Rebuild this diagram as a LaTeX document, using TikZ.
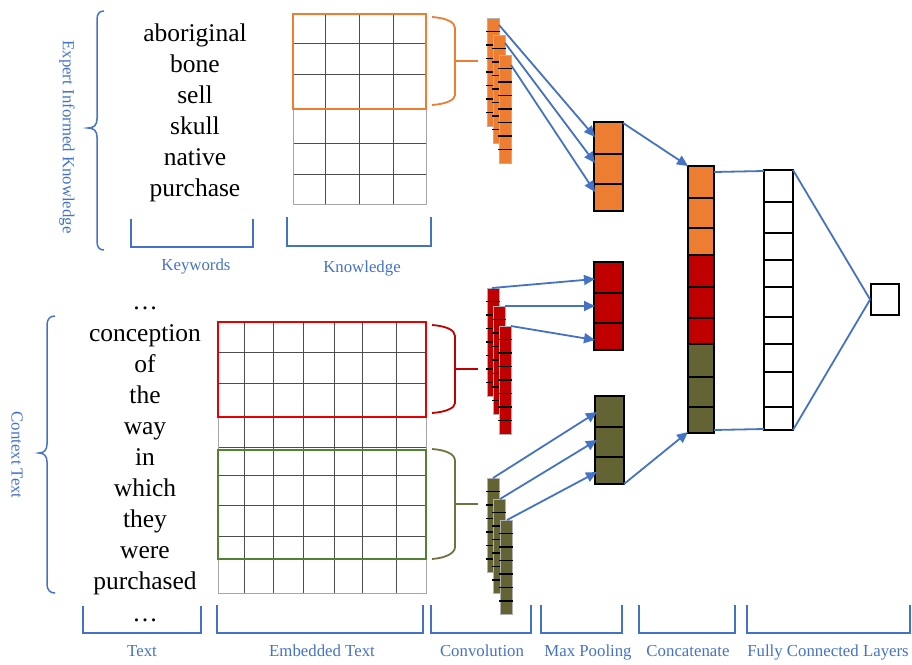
\documentclass[tikz,border=0pt]{standalone}
\usepackage{fontspec}
\setmainfont{Liberation Serif}
\usetikzlibrary{arrows.meta,calc}
\definecolor{myblue}{HTML}{4472C4}
\definecolor{myorange}{HTML}{ED7D31}
\definecolor{myred}{HTML}{C00000}
\definecolor{boxred}{HTML}{E80000}
\definecolor{myolive}{HTML}{636333}
\definecolor{braceolive}{HTML}{727240}
\definecolor{boxgreen}{HTML}{548235}
\newcommand\convcol[5]{% x, ytop, ncells, fill, name
  \path[draw=gray!60,line width=0.6pt,fill=#4] (#1,#2) rectangle ++(12,13.5*#3) coordinate (#5-br);
  \coordinate (#5-tl) at (#1,#2);
  \coordinate (#5-tr) at ($(#1,#2)+(12,0)$);
  \foreach \k in {1,...,\numexpr#3-1\relax}{\draw[black,line width=1.4pt] ($(#1,#2)+(-1,13.5*\k)$) -- ++(14,0);}
}
\tikzset{
  lbl/.style={text=myblue,font=\fontsize{16.8}{20}\selectfont,anchor=base,inner sep=0pt},
  word/.style={text=black,font=\fontsize{25.5}{30}\selectfont,anchor=base,inner sep=0pt},
  bracketline/.style={draw=myblue,line width=1.8pt},
  bluebrace/.style={draw=myblue,line width=1.5pt},
  colbrace/.style={line width=1.8pt},
  gridline/.style={draw=black!70,line width=0.6pt},
  conn/.style={draw=myblue,line width=1.8pt},
  arr/.style={conn,-{Triangle[length=11pt,width=10pt]}},
  poolbox/.style={draw=black,line width=1.8pt},
}
\begin{document}
\begin{tikzpicture}[x=1pt,y=-1pt]
\useasboundingbox (0,0) rectangle (912,664);

% ---------- big braces ----------
\draw[bluebrace] (104,11) .. controls (99,11) and (97,14) .. (97,20) -- (97,119) .. controls (97,125) and (94,128) .. (88,128) .. controls (94,128) and (97,131) .. (97,137) -- (97,241) .. controls (97,247) and (99,250) .. (104,250);
\node[lbl,anchor=center,rotate=-90] (eik) at (67,137) {Expert Informed Knowledge};

\draw[bluebrace] (55,316) .. controls (50,316) and (47,319) .. (47,325) -- (47,444) .. controls (47,450) and (44,453) .. (39,453) .. controls (44,453) and (47,456) .. (47,462) -- (47,584) .. controls (47,590) and (50,593) .. (55,593);
\node[lbl,anchor=center,rotate=-90] (ctx) at (17,455) {Context Text};

% ---------- keywords ----------
\node[word] (k1) at (195,41) {aboriginal};
\node[word] (k2) at (195,72) {bone};
\node[word] (k3) at (195,103) {sell};
\node[word] (k4) at (195,134) {skull};
\node[word] (k5) at (195,165) {native};
\node[word] (k6) at (195,196) {purchase};

% ---------- context words ----------
\node[word] (c0) at (145,309) {\ldots};
\node[word] (c1) at (145,341) {conception};
\node[word] (c2) at (145,372) {of};
\node[word] (c3) at (145,403) {the};
\node[word] (c4) at (145,434) {way};
\node[word] (c5) at (145,465) {in};
\node[word] (c6) at (145,496) {which};
\node[word] (c7) at (145,527) {they};
\node[word] (c8) at (145,558) {were};
\node[word] (c9) at (145,589) {purchased};
\node[word] (c10) at (145,621) {\ldots};

% ---------- knowledge grid ----------
\foreach \x in {325,359,393} \draw[gridline] (\x,13) -- (\x,204);
\foreach \y in {43,74,109,143,174} \draw[gridline] (293,\y) -- (426,\y);
\draw[draw=gray!70,line width=0.8pt] (293,13) rectangle (426,204);
\draw[draw=myorange,line width=2pt] (293,14) rectangle (426,109);

% ---------- embedded grid ----------
\foreach \x in {244,273,303,334,362,396} \draw[gridline] (\x,321) -- (\x,593);
\foreach \y in {352,383,417,447,475,505,536,559} \draw[gridline] (218,\y) -- (426,\y);
\draw[draw=gray!70,line width=0.8pt] (218,321) rectangle (426,593);
\draw[draw=boxred,line width=2pt] (218,322) rectangle (426,417);
\draw[draw=boxgreen,line width=2pt] (218,450) rectangle (426,559);

% ---------- coloured braces ----------
\draw[colbrace,draw=myorange] (432,17) .. controls (446,18) and (455,22) .. (455,28) -- (455,95) .. controls (455,100) and (446,104) .. (432,105);
\draw[colbrace,draw=myorange] (455,61) -- (478,61);
\draw[colbrace,draw=myred] (432,325) .. controls (446,326) and (455,330) .. (455,336) -- (455,403) .. controls (455,408) and (446,412) .. (432,413);
\draw[colbrace,draw=myred] (455,369) -- (478,369);
\draw[colbrace,draw=braceolive] (432,449) .. controls (446,450) and (455,454) .. (455,461) -- (455,547) .. controls (455,553) and (446,558) .. (432,559);
\draw[colbrace,draw=braceolive] (455,504) -- (478,504);

% ---------- convolution columns ----------
\convcol{487}{18}{8}{myorange}{o1}
\convcol{493}{35}{8}{myorange}{o2}
\convcol{499}{55}{8}{myorange}{o3}
\convcol{487}{288}{8}{myred}{r1}
\convcol{493}{306}{8}{myred}{r2}
\convcol{499}{326}{8}{myred}{r3}
\convcol{487}{478}{7}{myolive}{g1}
\convcol{493}{499}{7}{myolive}{g2}
\convcol{500}{520}{7}{myolive}{g3}

% ---------- max pooling ----------
\path[poolbox,fill=myorange] (594,122) rectangle (623,211);
\draw[poolbox] (594,154) -- (623,154) (594,184) -- (623,184);
\coordinate (mpotr) at (623,123);
\path[poolbox,fill=myred] (594,262) rectangle (623,350);
\draw[poolbox] (594,293) -- (623,293) (594,323) -- (623,323);
\path[poolbox,fill=myolive] (595,396) rectangle (624,484);
\draw[poolbox] (595,427) -- (624,427) (595,457) -- (624,457);
\coordinate (mpgbr) at (624,484);

% ---------- concatenate ----------
\path[fill=myorange] (688,166) rectangle (714,255);
\path[fill=myred] (688,255) rectangle (714,344);
\path[fill=myolive] (688,344) rectangle (714,433);
\foreach \y in {198,228,255,287,318,344,377,407} \draw[poolbox] (688,\y) -- (714,\y);
\draw[poolbox] (688,166) rectangle (714,433);
\coordinate (cattl) at (688,166);
\coordinate (catbl) at (688,432);
\coordinate (cattr) at (714,172);
\coordinate (catbr) at (714,430);

% ---------- fully connected ----------
\foreach \y in {202,233,260,287,317,344,372,407} \draw[poolbox] (764,\y) -- (793,\y);
\draw[poolbox] (764,170) rectangle (793,430);
\coordinate (fctl) at (764,171);
\coordinate (fcbl) at (764,429);
\coordinate (fctr) at (793,170);
\coordinate (fcbr) at (793,430);
\node[draw=black,line width=1.8pt,minimum width=28pt,minimum height=31pt,inner sep=0pt] (out) at (885,299.5) {};

% ---------- connectors ----------
\draw[arr] ($(o1-tr)+(0,7)$) -- (595,137);
\draw[arr] ($(o2-tr)+(0,8)$) -- (595,163);
\draw[arr] ($(o3-tr)+(0,10)$) -- (595,192);
\draw[arr] ($(r1-tl)+(5,0)$) -- (595,279);
\draw[arr] (r2-tr) -- (595,306);
\draw[arr] (r3-tr) -- (595,340);
\draw[arr] ($(g1-tl)+(6,0)$) -- (597,412);
\draw[arr] ($(g2-tl)+(7,0)$) -- (597,440);
\draw[arr] ($(g3-tl)+(7,0)$) -- (597,472);
\draw[arr] (mpotr) -- (cattl);
\draw[arr] (mpgbr) -- (catbl);
\draw[conn] (cattr) -- (fctl);
\draw[conn] (catbr) -- (fcbl);
\draw[conn] (fctr) -- (out.west);
\draw[conn] (fcbr) -- (out.west);

% ---------- brackets and labels ----------
\draw[bracketline] (131,219) -- (131,247) -- (253,247) -- (253,219);
\node[lbl] (kw) at (196,270) {Keywords};
\draw[bracketline] (287,217) -- (287,246) -- (431,246) -- (431,217);
\node[lbl] (kn) at (362,272) {Knowledge};

\draw[bracketline] (83,606) -- (83,633) -- (201,633) -- (201,606);
\node[lbl] (tx) at (142,656) {Text};
\draw[bracketline] (217,605) -- (217,633) -- (423,633) -- (423,605);
\node[lbl] (et) at (322,656) {Embedded Text};
\draw[bracketline] (431,605) -- (431,633) -- (531,633) -- (531,605);
\node[lbl] (cv) at (482,656) {Convolution};
\draw[bracketline] (541,605) -- (541,633) -- (622,633) -- (622,605);
\node[lbl] (mp) at (588,656) {Max Pooling};
\draw[bracketline] (639,605) -- (639,633) -- (735,633) -- (735,605);
\node[lbl] (cc) at (688,656) {Concatenate};
\draw[bracketline] (747,605) -- (747,633) -- (910,633) -- (910,605);
\node[lbl] (fc) at (828,656) {Fully Connected Layers};
\end{tikzpicture}
\end{document}
